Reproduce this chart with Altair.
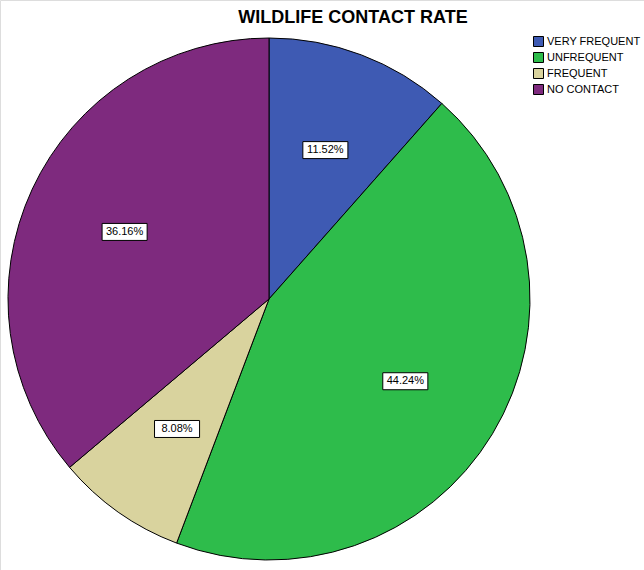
import altair as alt
import pandas as pd

title_text = "WILDLIFE CONTACT RATE"
categories = ["VERY FREQUENT", "UNFREQUENT", "FREQUENT", "NO CONTACT"]
percents = [11.52, 44.24, 8.08, 36.16]
colors = ["#3E5AB3", "#2EBC4B", "#D9D39E", "#7E2A7E"]

df = pd.DataFrame({
    "category": categories,
    "percent": percents,
    "order": list(range(len(categories))),
    "label": [f"{p:.2f}%" for p in percents],
})

CX, CY, R = 269, 299, 261
LR = 0.61

base = alt.Chart(df)

pie = base.mark_arc(radius=R, stroke="black", strokeWidth=1).encode(
    theta=alt.Theta("percent:Q", stack=True),
    color=alt.Color(
        "category:N",
        sort=categories,
        scale=alt.Scale(domain=categories, range=colors),
        legend=alt.Legend(
            title=None, orient="none", legendX=533, legendY=36,
            symbolType="square", symbolSize=100, symbolStrokeColor="black",
            symbolStrokeWidth=1, symbolOpacity=1,
            labelFont="Liberation Sans", labelFontSize=11, labelColor="black",
            labelOffset=3, rowPadding=1, padding=0,
        ),
    ),
    order=alt.Order("order:Q"),
    x=alt.value(CX),
    y=alt.value(CY),
)

lab = base.transform_joinaggregate(total="sum(percent)").transform_window(
    cum="sum(percent)", sort=[{"field": "order"}], frame=[None, 0]
).transform_calculate(
    ang="(datum.cum - datum.percent/2)/datum.total*2*PI",
    lx=f"{LR}*sin(datum.ang)",
    ly=f"{LR}*cos(datum.ang)",
)

xs = alt.X("lx:Q", scale=alt.Scale(domain=[-1, 1], range=[CX - R, CX + R]), axis=None)
ys = alt.Y("ly:Q", scale=alt.Scale(domain=[-1, 1], range=[CY + R, CY - R]), axis=None)

boxes = lab.mark_point(
    shape="M-2.65,-1L2.65,-1L2.65,1L-2.65,1Z", size=289,
    fill="white", fillOpacity=1, stroke="black", strokeWidth=1, strokeOpacity=1, opacity=1,
).encode(x=xs, y=ys)

texts = lab.mark_text(font="Liberation Sans", fontSize=11, color="black").encode(
    x=xs, y=ys, text="label:N"
)

title = alt.Chart(pd.DataFrame({"t": [title_text]})).mark_text(
    font="Liberation Sans", fontSize=18, fontWeight="bold", color="black",
    align="center", baseline="middle",
).encode(text="t:N", x=alt.value(353), y=alt.value(18))

chart = alt.layer(pie, boxes, texts, title).properties(
    width=644, height=570, autosize="none", padding=0
).configure_view(stroke=None).configure(background="white")

chart.save("out.html", embed_options={"renderer": "svg", "actions": False})
